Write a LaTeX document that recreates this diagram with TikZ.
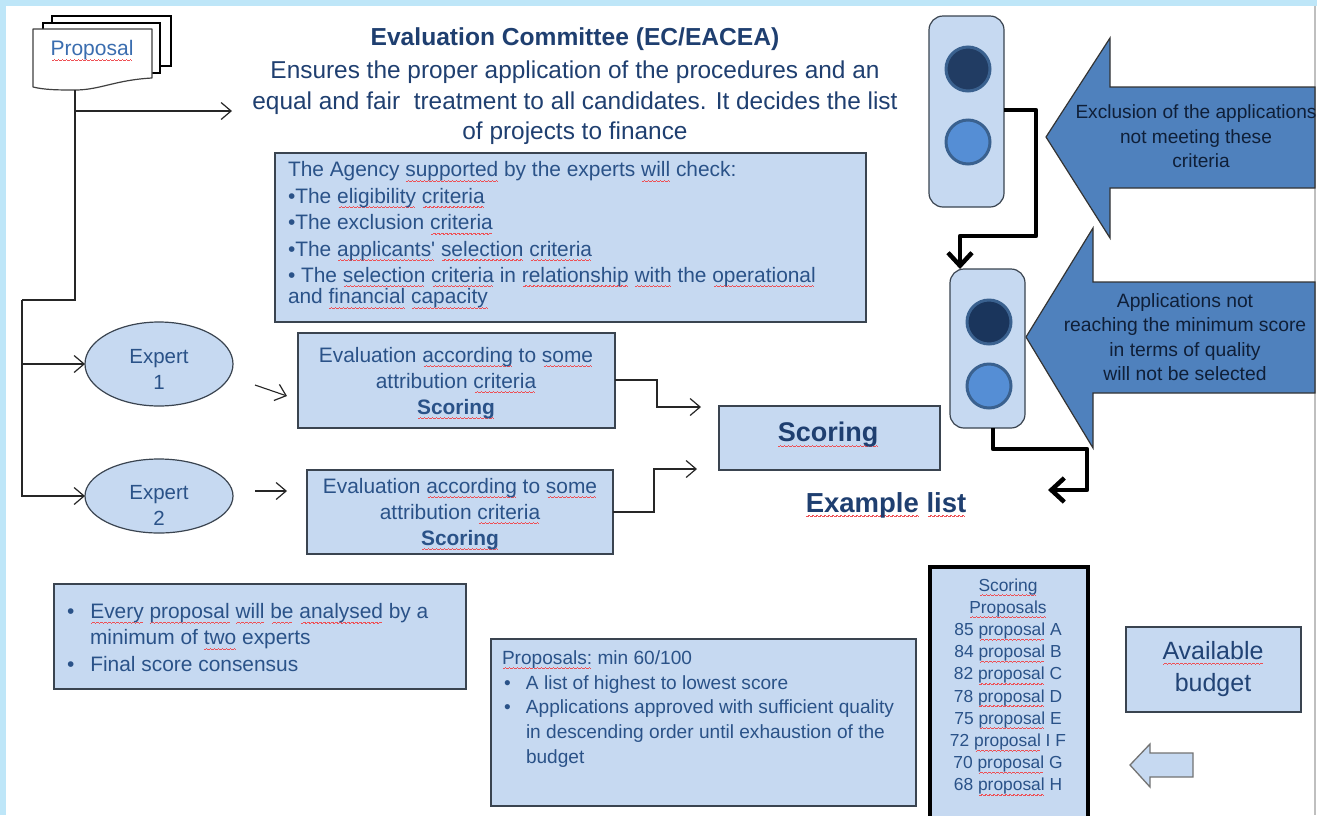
\documentclass[tikz,border=0pt]{standalone}
\usepackage{fontspec}
\setmainfont{Liberation Sans}[Ligatures=TeXOff]
\usetikzlibrary{arrows.meta,shapes.geometric}
\definecolor{framebg}{HTML}{BEE6F8}
\definecolor{boxfill}{HTML}{C6D9F1}
\definecolor{boxedge}{HTML}{3A4450}
\definecolor{inktext}{HTML}{2A5288}
\definecolor{titletext}{HTML}{1F3F70}
\definecolor{proptext}{HTML}{3A6DAF}
\definecolor{arrowfill}{HTML}{4F81BD}
\definecolor{arrowtext}{HTML}{0F1F38}
\definecolor{lampdark}{HTML}{213C63}
\definecolor{lampdarker}{HTML}{1A355C}
\definecolor{lamplight}{HTML}{558ED5}
\definecolor{lampedge}{HTML}{3A618F}
\definecolor{wavered}{HTML}{EE5055}
\newsavebox\sqbox
\newcommand\waveunit{\hbox{%
  \vrule width 1.3pt height 0.9pt depth 0pt
  \vrule width 0.7pt height 1.4pt depth -0.5pt
  \vrule width 1.3pt height 1.9pt depth -1pt
  \vrule width 0.7pt height 1.4pt depth -0.5pt}}
\newcommand\sq[1]{\sbox\sqbox{#1}\leavevmode\rlap{\smash{\lower5pt\hbox to\wd\sqbox{\color{wavered}\cleaders\waveunit\hfil}}}\usebox\sqbox}
\newcommand\fsz[2]{\fontsize{#1}{#2}\selectfont}
\tikzset{
  x=1pt,y=-1pt,
  every node/.style={inner sep=0pt,outer sep=0pt},
  bluebox/.style={draw=boxedge,fill=boxfill,line width=1.2pt,rectangle,anchor=north west},
  txt/.style={text=inktext,align=center},
  txtl/.style={text=inktext,align=left,anchor=west},
  thin line/.style={draw=black!85,line width=1.1pt},
  barb/.style={thin line,-{Straight Barb[length=10pt,width=17pt,line width=1.2pt]}},
  thick conn/.style={draw=black,line width=4.5pt,line join=round,-{Straight Barb[length=13pt,width=24pt,line width=4.5pt]}},
  lamp/.style={draw=boxedge,fill=boxfill,line width=1.2pt,rounded corners=14pt,anchor=north west},
  bulb/.style={circle,minimum size=44pt,line width=3pt,draw=lampedge},
  bigarrow/.style={draw=black!80,fill=arrowfill,line width=1.2pt,line join=miter},
  arrowlabel/.style={text=arrowtext,align=center},
  page/.style={draw=black,fill=white,line width=1.2pt,anchor=north west},
  expertshape/.style={ellipse,draw=boxedge,fill=boxfill,line width=1.2pt,minimum width=148pt},
}
\begin{document}
\begin{tikzpicture}
\useasboundingbox (0,0) rectangle (1317,815);
\fill[framebg] (0,0) rectangle (1317,815);
\fill[white] (6,6) rectangle (1317,815);
\draw[black!25,line width=1.2pt] (1315,6) -- (1315,815);

% proposal stack
\node[page,minimum width=119pt,minimum height=50pt] (back) at (52,16) {};
\node[page,minimum width=117pt,minimum height=50pt] (mid) at (43,23) {};
\filldraw[draw=black!75,fill=white,line width=1.2pt,line join=round] (33,29) -- (152,29) -- (152,78)
  .. controls (115,80) and (100,90) .. (75,90) .. controls (60,90) and (45,90) .. (33,87) -- cycle;
\node[text=proptext,font=\fsz{21}{25}] (proposal) at (92,50.5) {\sq{Proposal}};
\coordinate (docfoot) at (75,90);
\coordinate (titlein) at (232,111);
\coordinate (stem) at (75,300);
\coordinate (rail) at (22,300);

% title
\node[text=titletext,align=center,font=\fsz{24.4}{30.5}] (title) at (575,86.5)
 {{\fsz{24.6}{30.5}\bfseries Evaluation Committee (EC/EACEA)}\\[2.5pt]
  Ensures the proper application of the procedures and an\\
  equal and fair\ \ treatment to all candidates. It decides the list\\
  of projects to finance};

% agency box
\node[bluebox,minimum width=591pt,minimum height=169pt] (agency) at (275,153) {};
\node[txtl,font=\fsz{20.9}{26.4}] (agencytext) at (288,235)
 {The Agency \sq{supported} by the experts \sq{will} check:\\
  •The \sq{eligibility} \sq{criteria}\\
  •The exclusion \sq{criteria}\\
  •The \sq{applicants'} \sq{selection} \sq{criteria}\\[-0.5pt]
  • The \sq{selection} \sq{criteria} in \sq{relationship} \sq{with} the \sq{operational}\\[-4.5pt]
  and \sq{financial} \sq{capacity}};

% experts
\node[expertshape,minimum height=84pt] (expert1) at (159,364) {};
\node[txt,font=\fsz{20.5}{26}] (expert1text) at (159,369) {Expert\\1};
\node[expertshape,minimum height=74pt] (expert2) at (159,496) {};
\node[txt,font=\fsz{20.5}{26}] (expert2text) at (159,505) {Expert\\2};

% evaluation boxes
\node[bluebox,minimum width=317pt,minimum height=95pt] (eval1) at (298,333) {};
\node[txt,font=\fsz{20.9}{26}] (eval1text) at (456,383)
 {Evaluation \sq{according} to \sq{some}\\attribution \sq{criteria}\\{\bfseries\sq{Scoring}}};
\node[bluebox,minimum width=306pt,minimum height=84pt] (eval2) at (307,470) {};
\node[txt,font=\fsz{20.9}{26}] (eval2text) at (460,514)
 {Evaluation \sq{according} to \sq{some}\\attribution \sq{criteria}\\{\bfseries\sq{Scoring}}};

% scoring
\node[bluebox,minimum width=221pt,minimum height=64pt] (scoring) at (719,406) {};
\node[text=titletext,font=\bfseries\fsz{27}{32}] (scoringtext) at (828,435) {\sq{Scoring}};
\node[text=titletext,font=\bfseries\fsz{27.5}{32}] (example) at (886,505) {\sq{Example} \sq{list}};

% small connectors
\coordinate (a1s) at (255,385); \coordinate (a1e) at (287,396);
\coordinate (a2s) at (255,491); \coordinate (a2e) at (287,491);
\coordinate (c1m) at (657,380); \coordinate (c1n) at (657,407); \coordinate (c1e) at (701,407);
\coordinate (c2m) at (654,512); \coordinate (c2n) at (654,469); \coordinate (c2e) at (697,469);
\draw[thin line] (docfoot) -- (stem) -- (rail);
\draw[barb] (75,111) -- (titlein);
\draw[barb] (rail) |- (expert1.west);
\draw[barb] (rail) |- (expert2.west);
\draw[barb] (a1s) -- (a1e);
\draw[barb] (a2s) -- (a2e);
\draw[barb] (eval1.east |- c1m) -- (c1m) -- (c1n) -- (c1e);
\draw[barb] (eval2.east |- c2m) -- (c2m) -- (c2n) -- (c2e);

% big arrows
\filldraw[bigarrow] (1315,87) -- (1110,87) -- (1110,38) -- (1046,137) -- (1110,238) -- (1110,188) -- (1315,188) -- cycle;
\node[arrowlabel,font=\fsz{19.1}{24.6}] (exclusion) at (1196,136.5) {Exclusion of the applications\\not meeting these\\\hspace*{10pt}criteria};
\filldraw[bigarrow] (1315,282) -- (1093,282) -- (1093,228) -- (1026,337) -- (1093,448) -- (1093,393) -- (1315,393) -- cycle;
\node[arrowlabel,font=\fsz{19.3}{24.6}] (notreach) at (1185,337) {Applications not\\reaching the minimum score\\in terms of quality\\will not be selected};

% traffic lights
\node[lamp,minimum width=75pt,minimum height=191pt] (lampA) at (929,16) {};
\node[bulb,fill=lampdark] (a1) at (968,69) {};
\node[bulb,fill=lamplight] (a2) at (968,142) {};
\node[lamp,minimum width=75pt,minimum height=159pt] (lampB) at (950,269) {};
\node[bulb,fill=lampdarker] (b1) at (989,322) {};
\node[bulb,fill=lamplight] (b2) at (989,386) {};

% thick connectors
\coordinate (t1) at (1036,110); \coordinate (t2) at (1036,236); \coordinate (t3) at (960,236);
\coordinate (u1) at (993,449); \coordinate (u2) at (1087,449); \coordinate (u3) at (1087,490); \coordinate (u4) at (1048,490);
\draw[thick conn] (lampA.east |- t1) -- (t1) -- (t2) -- (t3) -- (t3 |- lampB.north);
\draw[thick conn] (u1 |- lampB.south) -- (u1) -- (u2) -- (u3) -- (u4);

% bottom left box
\node[bluebox,minimum width=412pt,minimum height=105pt] (every) at (54,584) {};
\node[txtl,font=\fsz{20.9}{26.5}] (everytext) at (67,637.5)
 {•\hspace{16pt}\sq{Every} \sq{proposal} \sq{will} \sq{be} \sq{analysed} by a\\
  \hspace*{23pt}minimum of \sq{two} experts\\
  •\hspace{16pt}Final score consensus};

% middle box
\node[bluebox,minimum width=425pt,minimum height=167pt] (prop) at (491,639) {};
\node[txtl,font=\fsz{19.1}{25}] (proptext) at (502,709)
 {\sq{Proposals:} min 60/100\\[0.5pt]
  \hspace*{2pt}•\hspace{15.3pt}A list of highest to lowest score\\[-1pt]
  \hspace*{2pt}•\hspace{15.3pt}Applications approved with sufficient quality\\
  \hspace*{24pt}in descending order until exhaustion of the\\
  \hspace*{24pt}budget};

% scoring list
\filldraw[draw=black,fill=boxfill,line width=4pt] (929.5,566.5) -- (1087.5,566.5) -- (1087.5,820) -- (929.5,820) -- cycle;
\node[txt,font=\fsz{17.4}{22.2}] (list) at (1008,686.5)
 {\sq{Scoring}\\\sq{Proposals}\\
  85 \sq{proposal} A\\84 \sq{proposal} B\\82 \sq{proposal} C\\78 \sq{proposal} D\\
  75 \sq{proposal} E\\72 \sq{proposal} I F\\70 \sq{proposal} G\\68 \sq{proposal} H};

% budget
\node[bluebox,minimum width=175pt,minimum height=85pt] (budget) at (1126,627) {};
\node[text=titletext!80!inktext,align=center,font=\fsz{25}{32}] (budgettext) at (1213,669) {\sq{Available}\\budget};
\filldraw[draw=black!55,fill=boxfill,line width=1.3pt,line join=miter] (1193,753) -- (1150,753) -- (1150,744) -- (1130,765) -- (1150,787) -- (1150,777) -- (1193,777) -- cycle;
\end{tikzpicture}
\end{document}
